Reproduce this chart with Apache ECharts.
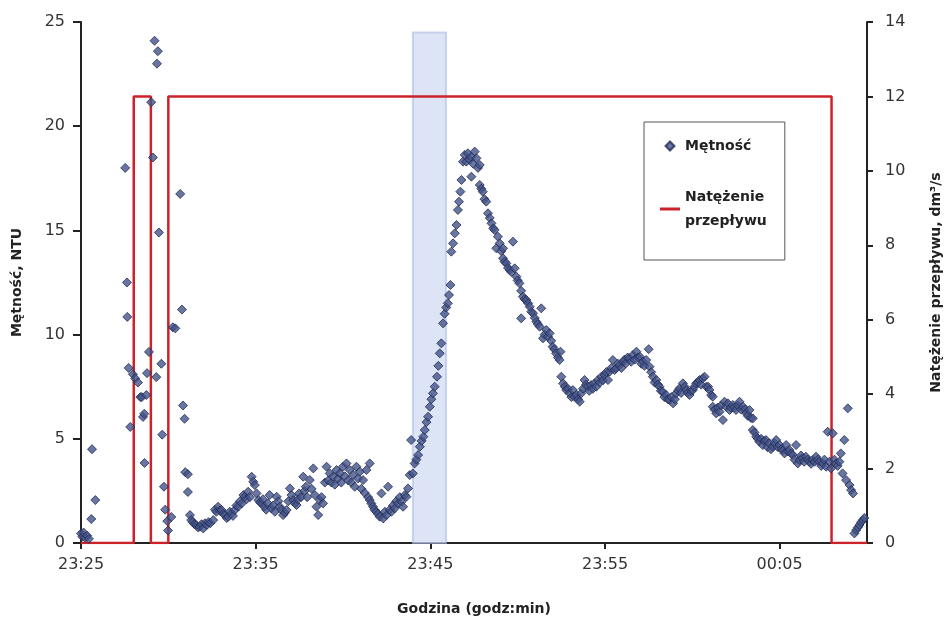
<!DOCTYPE html>
<html>
<head>
<meta charset="utf-8">
<script src="https://cdn.jsdelivr.net/npm/echarts@6/dist/echarts.min.js"></script>
<style>
  html, body { margin: 0; padding: 0; background: #fff; }
  #chart { width: 944px; height: 617px; }
</style>
</head>
<body>
<div id="chart"></div>
<script>
// czas liczony w minutach od 23:25
const xTickValues = [0, 10, 20, 30, 40];
const xTickLabels = ['23:25', '23:35', '23:45', '23:55', '00:05'];

// Mętność, NTU  [minuta, wartość]
const turbidity = [
  [0.0,0.45],[0.08,0.3],[0.15,0.5],[0.25,0.25],[0.35,0.35],[0.45,0.2],[0.59,1.15],[0.63,4.5],[0.82,2.06],
  [2.53,18.0],[2.63,12.5],[2.65,10.85],[2.73,8.4],[2.82,5.57],[2.97,8.1],[3.1,7.9],[3.26,7.7],[3.4,7.0],
  [3.48,7.0],[3.55,6.05],[3.62,6.2],[3.64,3.84],[3.74,7.1],[3.78,8.15],[3.89,9.17],[4.02,21.15],[4.12,18.5],
  [4.21,24.1],[4.31,7.96],[4.35,23.0],[4.4,23.6],[4.46,14.9],[4.6,8.6],[4.65,5.2],[4.75,2.7],[4.82,1.6],
  [4.94,1.05],[4.98,0.6],[5.17,1.25],[5.26,10.35],[5.4,10.3],[5.68,16.75],[5.78,11.2],[5.84,6.6],[5.93,5.96],
  [5.97,3.4],[6.12,3.3],[6.12,2.45],[6.24,1.34],[6.31,1.1],[6.4,1.0],[6.5,0.9],[6.6,0.86],[6.7,0.75],
  [6.8,0.78],[6.9,0.9],[7.0,0.7],[7.1,0.95],[7.2,0.86],[7.3,1.0],[7.4,0.95],[7.57,1.1],[7.67,1.6],
  [7.75,1.5],[7.85,1.74],[7.95,1.55],[8.05,1.58],[8.15,1.4],[8.24,1.34],[8.34,1.2],[8.43,1.26],[8.52,1.5],
  [8.62,1.42],[8.7,1.3],[8.8,1.58],[8.9,1.8],[9.0,1.74],[9.1,2.0],[9.2,1.9],[9.3,2.3],[9.38,2.22],
  [9.48,2.1],[9.57,2.46],[9.67,2.2],[9.77,3.18],[9.86,2.94],[9.95,2.78],[10.05,2.38],[10.15,2.06],[10.25,1.95],
  [10.34,1.9],[10.42,2.1],[10.5,1.74],[10.6,1.6],[10.7,1.9],[10.8,2.3],[10.9,1.66],[11.0,1.8],[11.1,1.5],
  [11.2,2.22],[11.3,2.0],[11.38,1.74],[11.47,1.6],[11.57,1.34],[11.67,1.45],[11.77,1.58],[11.87,2.0],[11.96,2.62],
  [12.05,2.3],[12.15,2.06],[12.25,1.9],[12.34,1.82],[12.42,2.1],[12.49,2.38],[12.6,2.2],[12.72,3.18],[12.8,2.5],
  [12.87,2.7],[12.95,2.2],[13.1,3.02],[13.2,2.6],[13.3,3.58],[13.39,2.3],[13.48,1.74],[13.58,1.34],[13.67,2.06],
  [13.77,2.2],[13.86,1.9],[13.96,2.9],[14.06,3.66],[14.15,3.0],[14.24,3.34],[14.34,2.9],[14.43,3.18],[14.53,2.8],
  [14.63,3.5],[14.72,3.1],[14.82,3.34],[14.9,2.9],[15.0,3.66],[15.1,3.2],[15.2,3.82],[15.3,3.0],[15.39,3.5],
  [15.48,2.9],[15.58,3.26],[15.67,2.7],[15.77,3.66],[15.87,3.1],[15.96,3.42],[16.05,2.6],[16.15,3.02],[16.25,2.4],
  [16.34,3.5],[16.44,2.2],[16.53,3.82],[16.53,2.06],[16.62,1.9],[16.72,1.74],[16.8,1.6],[16.9,1.5],[17.0,1.4],
  [17.1,1.26],[17.2,2.38],[17.3,1.18],[17.4,1.5],[17.5,1.34],[17.58,2.7],[17.68,1.6],[17.77,1.5],[17.86,1.8],
  [17.96,1.66],[18.05,2.0],[18.15,1.9],[18.25,2.2],[18.35,1.98],[18.44,1.74],[18.54,2.3],[18.63,2.22],[18.72,2.62],
  [18.82,3.26],[18.9,4.94],[19.0,3.34],[19.1,3.82],[19.2,4.0],[19.3,4.22],[19.4,4.62],[19.5,4.9],[19.6,5.1],
  [19.68,5.42],[19.78,5.8],[19.87,6.06],[19.97,6.54],[20.06,6.9],[20.15,7.18],[20.25,7.5],[20.38,7.98],[20.46,8.5],
  [20.54,9.1],[20.63,9.58],[20.73,10.54],[20.82,11.0],[20.91,11.3],[21.0,11.5],[21.07,11.9],[21.15,12.38],[21.2,13.98],
  [21.3,14.38],[21.4,14.86],[21.5,15.26],[21.58,15.98],[21.64,16.38],[21.72,16.86],[21.78,17.42],[21.87,18.3],[21.97,18.62],
  [22.06,18.3],[22.15,18.7],[22.25,18.4],[22.35,18.54],[22.35,17.58],[22.45,18.2],[22.54,18.78],[22.64,18.46],[22.73,18.0],
  [22.83,18.14],[22.83,17.18],[22.92,17.0],[23.0,16.86],[23.1,16.5],[23.2,16.38],[23.3,15.82],[23.4,15.6],[23.5,15.34],
  [23.6,15.1],[23.68,15.02],[23.78,14.14],[23.87,14.7],[23.97,14.38],[24.06,14.0],[24.16,14.14],[24.16,13.66],[24.25,13.5],
  [24.35,13.42],[24.45,13.2],[24.54,13.1],[24.64,13.0],[24.73,14.46],[24.83,13.18],[24.93,12.78],[25.0,12.6],[25.1,12.46],
  [25.2,10.78],[25.2,12.1],[25.3,11.82],[25.4,11.7],[25.5,11.66],[25.6,11.5],[25.69,11.34],[25.78,11.1],[25.88,11.02],
  [25.98,10.8],[26.07,10.62],[26.16,10.5],[26.26,10.38],[26.35,11.26],[26.45,9.82],[26.54,10.0],[26.64,10.22],[26.74,9.9],
  [26.83,10.06],[26.92,9.7],[27.0,9.42],[27.1,9.3],[27.2,9.1],[27.3,8.9],[27.4,8.78],[27.45,9.18],[27.5,7.98],
  [27.6,7.66],[27.7,7.5],[27.78,7.34],[27.88,7.4],[27.98,7.18],[28.08,7.0],[28.16,7.34],[28.26,7.02],[28.36,7.1],
  [28.46,6.9],[28.55,6.78],[28.64,7.18],[28.74,7.4],[28.83,7.82],[28.92,7.6],[29.0,7.5],[29.1,7.3],[29.2,7.58],
  [29.3,7.4],[29.4,7.66],[29.5,7.5],[29.6,7.82],[29.7,7.7],[29.79,7.98],[29.88,7.8],[29.98,8.06],[30.08,8.2],
  [30.17,7.82],[30.26,8.22],[30.36,8.4],[30.45,8.78],[30.55,8.3],[30.64,8.38],[30.74,8.6],[30.84,8.54],[30.94,8.4],
  [31.03,8.7],[31.12,8.8],[31.2,8.62],[31.3,8.9],[31.4,8.86],[31.5,8.7],[31.6,9.02],[31.7,8.8],[31.8,9.18],
  [31.9,8.9],[32.0,8.94],[32.08,8.6],[32.17,8.7],[32.26,8.5],[32.36,8.78],[32.5,9.3],[32.55,8.46],[32.64,8.2],
  [32.74,7.98],[32.84,7.7],[32.94,7.82],[33.03,7.6],[33.12,7.5],[33.2,7.3],[33.3,7.26],[33.4,7.0],[33.5,7.1],
  [33.6,6.9],[33.7,6.86],[33.8,7.0],[33.9,6.7],[34.0,6.9],[34.08,7.18],[34.18,7.3],[34.27,7.42],[34.36,7.2],
  [34.46,7.66],[34.56,7.5],[34.65,7.34],[34.74,7.2],[34.84,7.1],[34.94,7.3],[35.03,7.34],[35.12,7.5],[35.22,7.66],
  [35.32,7.7],[35.41,7.82],[35.5,7.6],[35.6,7.9],[35.7,7.98],[35.8,7.5],[35.9,7.5],[35.98,7.34],[36.08,7.1],
  [36.17,7.02],[36.17,6.54],[36.27,6.4],[36.37,6.22],[36.46,6.5],[36.56,6.3],[36.65,6.6],[36.75,5.9],[36.84,6.78],
  [36.94,6.54],[37.03,6.7],[37.13,6.38],[37.22,6.5],[37.32,6.62],[37.41,6.5],[37.5,6.38],[37.6,6.6],[37.7,6.78],
  [37.8,6.4],[37.9,6.54],[38.0,6.4],[38.1,6.22],[38.18,6.1],[38.27,6.38],[38.36,6.0],[38.46,5.98],[38.46,5.42],
  [38.56,5.3],[38.66,5.1],[38.75,5.0],[38.84,4.86],[38.94,5.0],[39.03,4.7],[39.12,4.9],[39.22,4.94],[39.3,4.6],
  [39.4,4.78],[39.5,4.5],[39.6,4.62],[39.7,4.8],[39.8,4.94],[39.9,4.6],[40.0,4.7],[40.1,4.5],[40.2,4.46],
  [40.28,4.3],[40.37,4.7],[40.46,4.4],[40.56,4.46],[40.66,4.3],[40.75,4.22],[40.85,4.0],[40.94,4.7],[41.04,3.82],
  [41.13,3.98],[41.22,4.2],[41.3,4.06],[41.4,3.9],[41.5,4.14],[41.6,4.0],[41.7,3.9],[41.8,3.8],[41.9,3.98],
  [42.0,3.9],[42.08,4.14],[42.18,4.0],[42.28,3.9],[42.38,3.7],[42.47,3.82],[42.56,4.0],[42.66,3.66],[42.75,5.34],
  [42.85,3.9],[42.94,3.58],[43.04,5.26],[43.14,4.0],[43.23,3.82],[43.32,3.7],[43.42,3.9],[43.5,4.3],[43.6,3.34],
  [43.7,4.94],[43.8,3.02],[43.9,6.46],[44.0,2.78],[44.09,2.54],[44.2,2.38],[44.28,0.46],[44.38,0.62],[44.48,0.75],
  [44.57,0.86],[44.66,1.0],[44.76,1.1],[44.85,1.2]
];

// Natężenie przepływu, dm3/s  [minuta, wartość]
const flow = [
  [0, 0], [3.02, 0], [3.02, 12], [4.0, 12], [4.0, 0], [5.0, 0], [5.0, 12],
  [42.97, 12], [42.97, 0], [45, 0]
];

// zacieniony pas (minuty, NTU)
const bandStart = 19.0;
const bandEnd = 20.9;
const bandTop = 24.5;

const chart = echarts.init(document.getElementById('chart'));
const font = 'DejaVu Sans';

const option = {
  animation: false,
  backgroundColor: '#fff',
  textStyle: { fontFamily: font },
  grid: { left: 81, right: 77, top: 22, bottom: 74, containLabel: false, outerBoundsMode: 'none' },
  legend: {
    orient: 'vertical',
    left: 644,
    top: 122,
    padding: [12, 18, 27, 16],
    itemGap: 27,
    itemWidth: 20,
    itemHeight: 9,
    symbolKeepAspect: true,
    borderColor: '#555',
    borderWidth: 1,
    backgroundColor: '#fff',
    textStyle: { fontFamily: font, fontSize: 14, fontWeight: 'bold', color: '#222', lineHeight: 24 },
    formatter: function (name) {
      return name === 'Natężenie przepływu' ? 'Natężenie\nprzepływu' : name;
    },
    data: [
      { name: 'Mętność', icon: 'path://M5,0L10,5L5,10L0,5Z' },
      { name: 'Natężenie przepływu', icon: 'path://M0,0H20V3H0Z' }
    ]
  },
  xAxis: {
    type: 'value',
    min: 0,
    max: 45,
    interval: 10,
    name: 'Godzina (godz:min)',
    nameLocation: 'middle',
    nameGap: 59,
    nameTextStyle: { fontFamily: font, fontSize: 14, fontWeight: 'bold', color: '#222' },
    axisLine: { show: true, lineStyle: { color: '#222', width: 2 } },
    axisTick: { show: true, length: 6, customValues: xTickValues, lineStyle: { color: '#222', width: 2 } },
    axisLabel: {
      fontFamily: font, fontSize: 16, color: '#333', margin: 14,
      customValues: xTickValues,
      formatter: function (v) { return xTickLabels[xTickValues.indexOf(v)] || ''; }
    },
    splitLine: { show: false }
  },
  yAxis: [
    {
      type: 'value',
      min: 0,
      max: 25,
      interval: 5,
      name: 'Mętność, NTU',
      nameLocation: 'middle',
      nameRotate: 90,
      nameGap: 57,
      nameTextStyle: { fontFamily: font, fontSize: 14, fontWeight: 'bold', color: '#222' },
      axisLine: { show: true, lineStyle: { color: '#222', width: 2 } },
      axisTick: { show: true, length: 8, lineStyle: { color: '#222', width: 2 } },
      axisLabel: { fontFamily: font, fontSize: 16, color: '#333', margin: 16 },
      splitLine: { show: false }
    },
    {
      type: 'value',
      min: 0,
      max: 14,
      interval: 2,
      name: 'Natężenie przepływu, dm³/s',
      nameLocation: 'middle',
      nameRotate: 90,
      nameGap: 62,
      nameTextStyle: { fontFamily: font, fontSize: 14, fontWeight: 'bold', color: '#222' },
      axisLine: { show: true, lineStyle: { color: '#222', width: 2 } },
      axisTick: { show: true, length: 6, lineStyle: { color: '#222', width: 2 } },
      axisLabel: { fontFamily: font, fontSize: 16, color: '#333', margin: 18 },
      splitLine: { show: false }
    }
  ],
  series: [
    {
      name: 'Natężenie przepływu',
      type: 'line',
      yAxisIndex: 1,
      data: flow,
      symbol: 'none',
      lineStyle: { color: '#cc2229', width: 2.5 },
      itemStyle: { color: '#cc2229' },
      z: 2
    },
    {
      name: 'Mętność',
      type: 'scatter',
      yAxisIndex: 0,
      data: turbidity,
      symbol: 'diamond',
      symbolSize: 9,
      itemStyle: { color: '#44548a', borderColor: '#222c52', borderWidth: 1 },
      markArea: {
        silent: true,
        z: 1,
        itemStyle: { color: 'rgba(196,210,238,0.6)', borderColor: 'rgba(170,188,228,0.6)', borderWidth: 2 },
        data: [[{ coord: [bandStart, 0] }, { coord: [bandEnd, bandTop] }]]
      },
      z: 3
    }
  ]
};

chart.setOption(option);
</script>
</body>
</html>
